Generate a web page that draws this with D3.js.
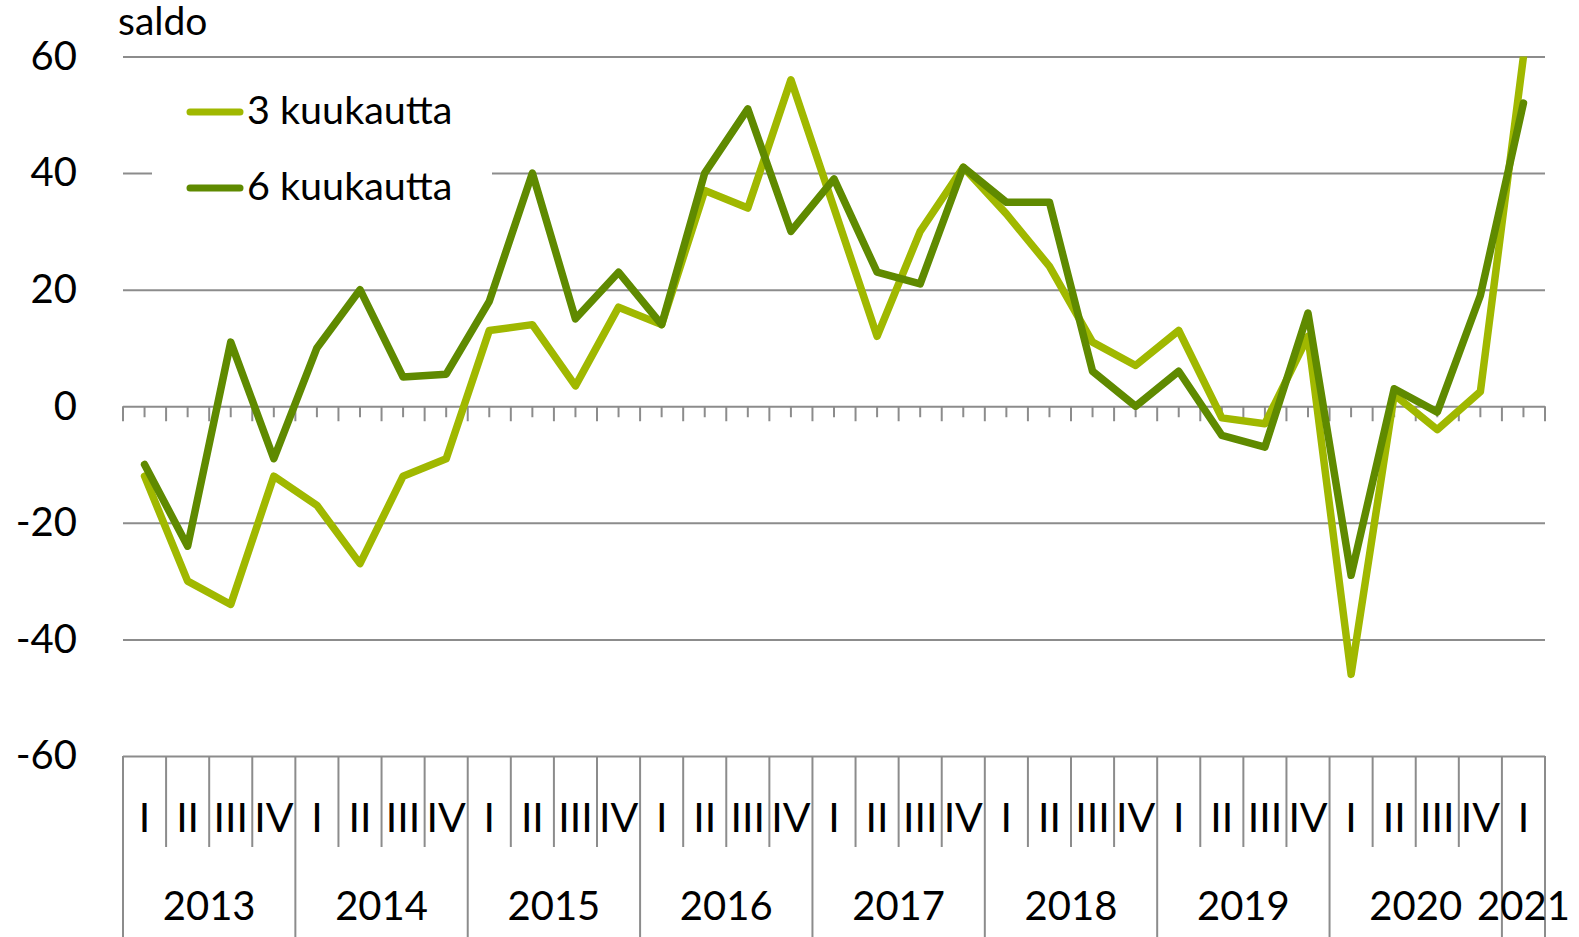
<!DOCTYPE html>
<html>
<head>
<meta charset="utf-8">
<script src="https://cdn.jsdelivr.net/npm/d3@7"></script>
<style>
  body { margin: 0; background: #fff; }
  text { font-family: Lato, "Open Sans", sans-serif; fill: #000; }
</style>
</head>
<body>
<svg width="1579" height="937"></svg>
<script>
var years = ['2013', '2014', '2015', '2016', '2017', '2018', '2019', '2020', '2021']
var quarters = ['I', 'II', 'III', 'IV']
// last year only has its first quarter
var quartersPerYear = [4, 4, 4, 4, 4, 4, 4, 4, 1]

var threeMonths = [-12, -30, -34, -12, -17, -27, -12, -9, 13, 14, 3.5, 17, 14, 37, 34, 56,
                   34, 12, 30, 41, 33, 24, 11, 7, 13, -2, -3, 12, -46, 2, -4, 2.5, 60]
var sixMonths = [-10, -24, 11, -9, 10, 20, 5, 5.5, 18, 40, 15, 23, 14, 40, 51, 30,
                 39, 23, 21, 41, 35, 35, 6, 0, 6, -5, -7, 16, -29, 3, -1, 19, 52]
var yTicks = [-60, -40, -20, 0, 20, 40, 60]
var seriesNames = ['3 kuukautta', '6 kuukautta']
var colors = ['#a0b800', '#5f8a00']

// build category list (year + quarter)
var categories = []
years.forEach(function(y, i) {
  for (var q = 0; q < quartersPerYear[i]; q++) categories.push({ year: y, q: quarters[q], key: y + ' ' + quarters[q] })
})

var svg = d3.select('svg'),
    plotLeft = 123, plotRight = 1545, plotTop = 56.5, plotBottom = 756

var x = d3.scaleBand().domain(categories.map(function(d) { return d.key })).range([plotLeft, plotRight]).padding(0)
var y = d3.scaleLinear().domain([-60, 60]).range([plotBottom, plotTop])
var gridColor = '#8c8c8c'

// gridlines
svg.append('g')
  .attr('transform', 'translate(' + plotLeft + ',0)')
  .call(d3.axisLeft(y).tickValues(yTicks).tickSize(-(plotRight - plotLeft)).tickFormat(''))
  .call(function(g) { g.select('.domain').remove() })
  .selectAll('line').attr('stroke', gridColor).attr('stroke-width', 2)

// y labels
svg.append('g')
  .attr('transform', 'translate(' + plotLeft + ',0)')
  .call(d3.axisLeft(y).tickValues(yTicks).tickSize(0).tickPadding(46).tickFormat(function(d) { return d < 0 ? '-' + Math.abs(d) : d }))
  .call(function(g) { g.select('.domain').remove() })
  .selectAll('text')
  .attr('font-family', 'Lato, sans-serif')
  .attr('font-size', '40px')
  .attr('fill', '#000')

svg.append('text')
  .attr('x', 118).attr('y', 35)
  .attr('font-size', '39px')
  .text('saldo')

// tick marks on the zero line: category boundaries and centres
var zeroY = y(0)
var bounds = categories.map(function(d) { return x(d.key) }).concat([plotRight])
svg.append('g').selectAll('line.b')
  .data(bounds).enter().append('line')
  .attr('x1', function(d) { return d }).attr('x2', function(d) { return d })
  .attr('y1', zeroY).attr('y2', zeroY + 15)
  .attr('stroke', gridColor).attr('stroke-width', 2)
svg.append('g')
  .attr('transform', 'translate(0,' + zeroY + ')')
  .call(d3.axisBottom(x).tickSize(11).tickFormat(''))
  .call(function(g) { g.select('.domain').remove() })
  .selectAll('line').attr('stroke', gridColor).attr('stroke-width', 2)

// category box below the plot
var boxBottom = 937, quarterRowBottom = 847
var box = svg.append('g')
box.selectAll('line.q')
  .data(categories).enter().append('line')
  .attr('x1', function(d) { return x(d.key) }).attr('x2', function(d) { return x(d.key) })
  .attr('y1', plotBottom).attr('y2', function(d) { return d.q === 'I' ? boxBottom : quarterRowBottom })
  .attr('stroke', gridColor).attr('stroke-width', 2)
box.append('line')
  .attr('x1', plotRight).attr('x2', plotRight).attr('y1', plotBottom).attr('y2', boxBottom)
  .attr('stroke', gridColor).attr('stroke-width', 2)

box.selectAll('text.q')
  .data(categories).enter().append('text')
  .attr('x', function(d) { return x(d.key) + x.bandwidth() / 2 })
  .attr('y', 832)
  .attr('text-anchor', 'middle')
  .attr('font-size', '41px')
  .text(function(d) { return d.q })

box.selectAll('text.y')
  .data(years).enter().append('text')
  .attr('x', function(yr) {
    var cs = categories.filter(function(c) { return c.year === yr })
    return (x(cs[0].key) + x(cs[cs.length - 1].key) + x.bandwidth()) / 2
  })
  .attr('y', 920)
  .attr('text-anchor', 'middle')
  .attr('font-size', '40px')
  .text(function(d) { return d })

// legend
var legend = svg.append('g')
legend.append('rect').attr('x', 152).attr('y', 80).attr('width', 340).attr('height', 135).attr('fill', '#fff')
var legendY = [112, 188]
seriesNames.forEach(function(name, i) {
  legend.append('line')
    .attr('x1', 190).attr('x2', 240).attr('y1', legendY[i]).attr('y2', legendY[i])
    .attr('stroke', colors[i]).attr('stroke-width', 7).attr('stroke-linecap', 'round')
  legend.append('text')
    .attr('x', 247).attr('y', legendY[i] + 12)
    .attr('font-size', '39.5px')
    .text(name)
})

// lines
svg.append('clipPath').attr('id', 'plot')
  .append('rect').attr('x', plotLeft).attr('y', plotTop).attr('width', plotRight - plotLeft).attr('height', plotBottom - plotTop)

var line = d3.line()
  .x(function(d, i) { return x(categories[i].key) + x.bandwidth() / 2 })
  .y(function(d) { return y(d) })

;[threeMonths, sixMonths].forEach(function(s, i) {
  svg.append('path')
    .datum(s)
    .attr('clip-path', 'url(#plot)')
    .attr('fill', 'none')
    .attr('stroke', colors[i])
    .attr('stroke-width', 7.5)
    .attr('stroke-linejoin', 'round')
    .attr('stroke-linecap', 'round')
    .attr('d', line)
})
</script>
</body>
</html>
